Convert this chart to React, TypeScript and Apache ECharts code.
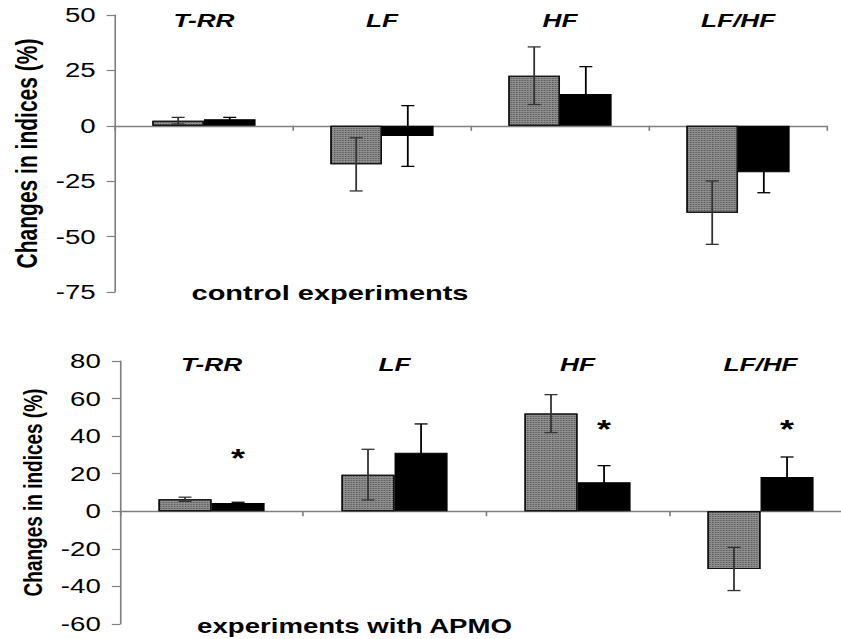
import React, { useEffect, useRef } from "react";
import * as echarts from "echarts";

// ---- data ----
const categories = ["T-RR", "LF", "HF", "LF/HF"];

const ctrlGray = [2.3, -17.4, 22.6, -39.2];
const ctrlGrayErr = [1.5, 12.0, 13.0, 14.3];
const ctrlBlack = [3.0, -4.6, 14.3, -21.0];
const ctrlBlackErr = [0.8, 13.7, 12.4, 9.2];

const apmoGray = [6.4, 19.5, 52.0, -30.7];
const apmoGrayErr = [1.1, 13.5, 10.1, 11.5];
const apmoBlack = [4.4, 31.2, 15.4, 18.3];
const apmoBlackErr = [0.4, 15.3, 8.9, 10.6];
const apmoStars: (number | null)[] = [31.2, null, 46.8, 46.8];

const ctrlYTicks = { min: -75, max: 50, interval: 25 };
const apmoYTicks = { min: -60, max: 80, interval: 20 };

const yName = "Changes in indices (%)";
const ctrlCaption = "control experiments";
const apmoCaption = "experiments with APMO";

// ---- layout (unscaled coordinates; the chart is stretched horizontally) ----
const S = 1.38;
const W = 630;
const H = 639;
const CAT_GAP = 0.42;
const BAR_FRAC = (1 - CAT_GAP) / 2;
const FONT = "'Liberation Sans', Arial, sans-serif";
const AXIS_COLOR = "#808080";

function errRender(sign: number, color: string) {
  return (params: any, api: any) => {
    const idx = api.value(0);
    const v = api.value(1);
    const e = api.value(2);
    const band = api.size([1, 0])[0];
    const c = api.coord([idx, v]);
    const cx = c[0] + (sign * band * BAR_FRAC) / 2;
    const yTop = api.coord([idx, v + e])[1];
    const yBot = api.coord([idx, v - e])[1];
    const half = 4.7;
    const style = { stroke: color, lineWidth: 1.3 };
    return {
      type: "group",
      children: [
        { type: "line", shape: { x1: cx, y1: yTop, x2: cx, y2: yBot }, style },
        { type: "line", shape: { x1: cx - half, y1: yTop, x2: cx + half, y2: yTop }, style },
        { type: "line", shape: { x1: cx - half, y1: yBot, x2: cx + half, y2: yBot }, style },
      ],
    };
  };
}

function starRender(params: any, api: any) {
  const idx = api.value(0);
  const v = api.value(1);
  const band = api.size([1, 0])[0];
  const c = api.coord([idx, v]);
  const cx = c[0] + (band * BAR_FRAC) / 2;
  return {
    type: "text",
    x: cx,
    y: c[1] + 6,
    style: {
      text: "*",
      font: `bold 26px ${FONT}`,
      fill: "#000",
      textAlign: "center",
      textVerticalAlign: "middle",
    },
  };
}

function xAxes(grid: number, labelMargin: number) {
  return [
    {
      gridIndex: grid,
      type: "category",
      data: categories,
      position: "bottom",
      axisLine: { onZero: true, lineStyle: { color: AXIS_COLOR, width: 1.3 } },
      axisTick: { show: true, length: 5, lineStyle: { color: AXIS_COLOR, width: 1.2 } },
      axisLabel: { show: false },
      splitLine: { show: false },
    },
    {
      gridIndex: grid,
      type: "category",
      data: categories,
      position: "top",
      axisLine: { show: false, onZero: false },
      axisTick: { show: false },
      splitLine: { show: false },
      axisLabel: {
        margin: labelMargin,
        verticalAlign: "middle",
        fontSize: 19,
        fontWeight: "bold",
        fontStyle: "italic",
        color: "#000",
        fontFamily: FONT,
      },
    },
  ];
}

function yAxis(grid: number, ticks: any, nameGap: number, nameSize: number) {
  return {
    gridIndex: grid,
    type: "value",
    min: ticks.min,
    max: ticks.max,
    interval: ticks.interval,
    axisLine: { show: true, lineStyle: { color: AXIS_COLOR, width: 1.2 } },
    axisTick: { show: true, length: 6, lineStyle: { color: AXIS_COLOR, width: 1.2 } },
    splitLine: { show: false },
    axisLabel: { fontSize: 20, color: "#000", margin: 14, fontFamily: FONT },
    name: yName,
    nameLocation: "middle",
    nameGap,
    nameTextStyle: { fontSize: nameSize, fontWeight: "bold", color: "#000", fontFamily: FONT },
  };
}

const grayDecal = {
  symbol: "rect",
  symbolSize: 1,
  color: "rgba(30,30,30,0.5)",
  dashArrayX: [1, 1],
  dashArrayY: [1, 1],
  rotation: 0,
};

function seriesFor(
  xIdx: number,
  yIdx: number,
  gray: number[],
  grayErr: number[],
  black: number[],
  blackErr: number[]
) {
  return [
    {
      type: "bar",
      xAxisIndex: xIdx,
      yAxisIndex: yIdx,
      data: gray,
      barCategoryGap: `${CAT_GAP * 100}%`,
      barGap: "0%",
      itemStyle: { color: "#8e8e8e", borderColor: "#111", borderWidth: 1, decal: grayDecal },
      z: 2,
    },
    {
      type: "bar",
      xAxisIndex: xIdx,
      yAxisIndex: yIdx,
      data: black,
      barCategoryGap: `${CAT_GAP * 100}%`,
      barGap: "0%",
      itemStyle: { color: "#000", borderColor: "#000", borderWidth: 1 },
      z: 2,
    },
    {
      type: "custom",
      xAxisIndex: xIdx,
      yAxisIndex: yIdx,
      renderItem: errRender(-1, "#333"),
      encode: { x: 0, y: 1 },
      data: gray.map((v, i) => [i, v, grayErr[i]]),
      z: 4,
    },
    {
      type: "custom",
      xAxisIndex: xIdx,
      yAxisIndex: yIdx,
      renderItem: errRender(1, "#000"),
      encode: { x: 0, y: 1 },
      data: black.map((v, i) => [i, v, blackErr[i]]),
      z: 4,
    },
  ];
}

export default function App() {
  const ref = useRef<HTMLDivElement>(null);
  useEffect(() => {
    if (!ref.current) return;
    const chart = echarts.init(ref.current, null, { renderer: "svg" });
    const option: any = {
      animation: false,
      textStyle: { fontFamily: FONT },
      grid: [
        { left: 83.3, right: W - 599.3, top: 15, bottom: H - 292 },
        { left: 87, right: W - 617.4, top: 361, bottom: 15 },
      ],
      xAxis: [...xAxes(0, -5), ...xAxes(1, -3)],
      yAxis: [yAxis(0, ctrlYTicks, 52, 21), yAxis(1, apmoYTicks, 49, 19)],
      series: [
        ...seriesFor(0, 0, ctrlGray, ctrlGrayErr, ctrlBlack, ctrlBlackErr),
        ...seriesFor(2, 1, apmoGray, apmoGrayErr, apmoBlack, apmoBlackErr),
        {
          type: "custom",
          xAxisIndex: 2,
          yAxisIndex: 1,
          renderItem: starRender,
          encode: { x: 0, y: 1 },
          data: apmoStars
            .map((v, i) => (v == null ? null : [i, v]))
            .filter((d) => d !== null),
          z: 5,
        },
      ],
      graphic: [
        {
          type: "text",
          x: 330 / S,
          y: 293,
          style: {
            text: ctrlCaption,
            font: `bold 21px ${FONT}`,
            fill: "#000",
            textAlign: "center",
            textVerticalAlign: "middle",
          },
        },
        {
          type: "text",
          x: 354.5 / S,
          y: 625.5,
          style: {
            text: apmoCaption,
            font: `bold 20px ${FONT}`,
            fill: "#000",
            textAlign: "center",
            textVerticalAlign: "middle",
          },
        },
      ],
    };
    chart.setOption(option);
    return () => chart.dispose();
  }, []);
  return (
    <div
      style={{
        position: "absolute",
        left: 0,
        top: 0,
        width: 841,
        height: H,
        overflow: "hidden",
        background: "#fff",
      }}
    >
      <div
        ref={ref}
        style={{
          width: W,
          height: H,
          transform: `scaleX(${S})`,
          transformOrigin: "0 0",
        }}
      />
    </div>
  );
}
